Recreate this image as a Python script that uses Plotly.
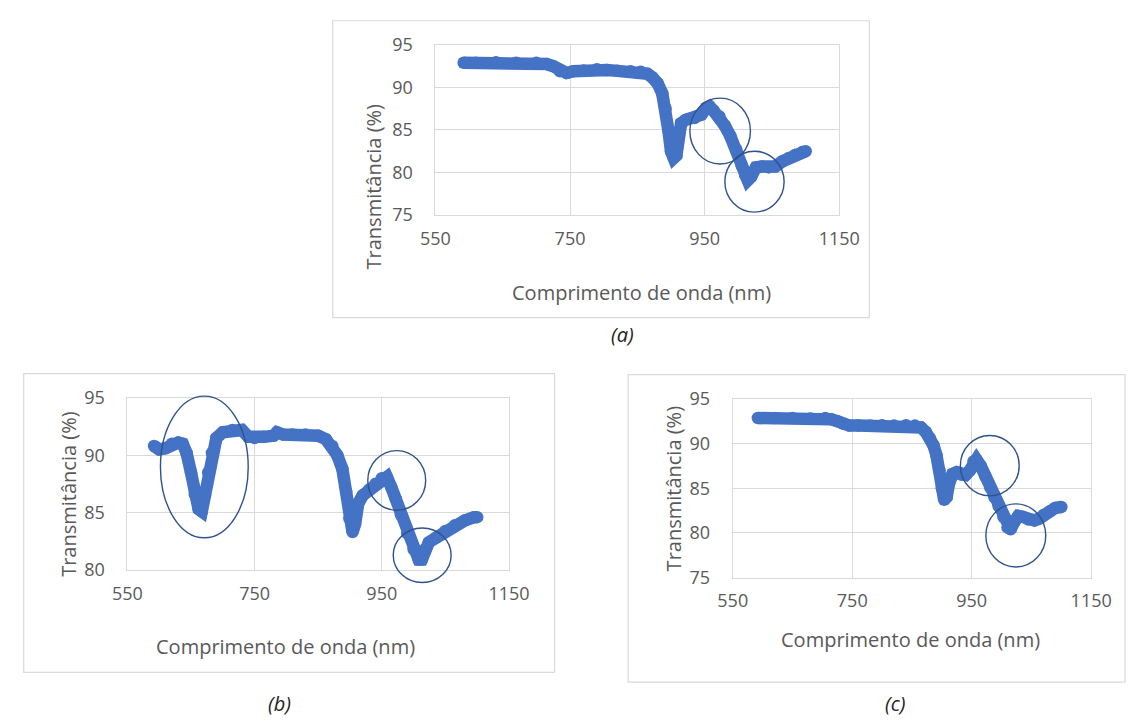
import plotly.graph_objects as go

W, H = 1148, 725

# Transmittance spectra (wavelength in nm, transmittance in %)
wl_a = [592, 610, 640, 670, 700, 715, 725, 735, 745, 755, 770, 790, 805, 820, 840, 855, 865,
        872, 880, 887, 892, 896, 900, 904, 908, 911, 915, 922, 935, 945, 952, 957, 963, 972,
        980, 988, 997, 1005, 1010, 1014, 1019, 1026, 1035, 1045, 1055, 1065, 1075, 1085, 1095, 1100]
tr_a = [92.9, 92.9, 92.95, 92.9, 92.9, 92.75, 92.5, 91.9, 91.7, 91.9, 92.0, 92.15, 92.05, 91.95,
        91.9, 91.85, 91.6, 91.2, 90.5, 89.3, 87.5, 85.0, 82.5, 81.7, 82.0, 84.5, 85.8, 86.2, 86.4,
        86.8, 87.6, 87.8, 87.3, 86.6, 85.5, 84.3, 82.7, 80.8, 79.7, 79.1, 79.5, 80.6, 80.7, 80.6,
        80.7, 81.3, 81.7, 82.1, 82.4, 82.5]

wl_b = [592, 600, 610, 620, 630, 637, 643, 650, 656, 662, 667, 672, 677, 683, 690, 700, 715,
        730, 740, 750, 765, 780, 785, 795, 810, 830, 850, 862, 872, 880, 888, 894, 899, 904, 908,
        913, 920, 930, 940, 950, 958, 965, 972, 980, 990, 1000, 1008, 1013, 1018, 1024, 1035,
        1050, 1065, 1080, 1095, 1100]
tr_b = [90.8, 90.5, 90.6, 91.0, 91.1, 91.0, 90.2, 88.5, 86.6, 85.3, 85.1, 86.5, 88.5, 90.2, 91.5,
        92.0, 92.2, 92.2, 91.6, 91.5, 91.6, 91.7, 92.0, 91.8, 91.8, 91.8, 91.7, 91.4, 90.8, 90.0,
        88.8, 86.8, 84.5, 83.3, 84.0, 85.8, 86.5, 87.0, 87.5, 88.0, 88.1, 87.2, 86.2, 84.8, 83.2,
        81.8, 80.9, 80.9, 81.8, 82.4, 82.8, 83.4, 83.9, 84.3, 84.6, 84.6]

wl_c = [592, 620, 650, 680, 705, 715, 725, 735, 745, 760, 780, 800, 820, 840, 855, 865, 873,
        880, 886, 891, 896, 900, 904, 908, 912, 918, 925, 933, 940, 947, 953, 958, 965, 973, 981,
        988, 995, 1003, 1010, 1015, 1021, 1028, 1035, 1045, 1055, 1063, 1070, 1080, 1090, 1100]
tr_c = [92.85, 92.85, 92.85, 92.8, 92.85, 92.7, 92.5, 92.2, 92.0, 92.0, 92.0, 92.05, 92.0, 92.05,
        92.0, 91.8, 91.3, 90.6, 89.8, 88.7, 87.0, 85.0, 83.7, 84.0, 85.5, 86.6, 86.8, 86.5, 86.5,
        87.0, 88.0, 88.2, 87.5, 86.3, 85.1, 84.0, 83.0, 81.8, 80.6, 80.4, 81.2, 81.9, 81.8, 81.5,
        81.4, 81.6, 82.0, 82.4, 82.8, 82.9]

x_ticks = [550, 750, 950, 1150]
x_range = [550, 1150]

x_title = "Comprimento de onda (nm)"
y_title = "Transmitância (%)"

# Highlight ellipses (x0, x1, y0, y1) in data units of each panel
marks_a = [(928, 1018, 81.0, 88.75), (980, 1068, 75.35, 82.5)]
marks_b = [(602, 740, 82.8, 95.15), (928, 1019, 85.2, 90.4), (968, 1059, 78.9, 83.65)]
marks_c = [(931, 1029.5, 84.15, 90.9), (973.7, 1074, 76.2, 83.25)]

# Panel geometry in pixels: plot area (left, top, right, bottom) and surrounding frame
panels = [
    dict(name="(a)", wl=wl_a, tr=tr_a, yr=[75, 95], yt=[75, 80, 85, 90, 95],
         plot=(434, 33, 851, 209), frame=(328, 8, 882, 315), marks=marks_a,
         ytitle=(370, 179), xtitle=(647, 289), label=(627, 333)),
    dict(name="(b)", wl=wl_b, tr=tr_b, yr=[80, 95], yt=[80, 85, 90, 95],
         plot=(116, 398, 510, 576), frame=(9, 373, 557, 682), marks=marks_b,
         ytitle=(55, 497), xtitle=(279, 655), label=(273, 714)),
    dict(name="(c)", wl=wl_c, tr=tr_c, yr=[75, 95], yt=[75, 80, 85, 90, 95],
         plot=(741, 399, 1111, 584), frame=(633, 374, 1146, 692), marks=marks_c,
         ytitle=(680, 492), xtitle=(925, 648), label=(909, 714)),
]


def fx(p):
    return p / W


def fy(p):
    return 1 - p / H


FONT = "Open Sans"
GREY_TXT = "#595959"
GRID = "#d9d9d9"
BLUE = "#4472c4"
RING = "#2f528f"

fig = go.Figure()
layout = dict(
    width=W, height=H, margin=dict(l=0, r=0, t=0, b=0),
    paper_bgcolor="white", plot_bgcolor="white", showlegend=False,
    font=dict(family=FONT, color=GREY_TXT),
)
shapes, annotations = [], []

for i, p in enumerate(panels):
    k = "" if i == 0 else str(i + 1)
    l, t, r, b = p["plot"]
    fig.add_trace(go.Scatter(
        x=p["wl"], y=p["tr"], mode="lines+markers",
        line=dict(color=BLUE, width=12.5),
        marker=dict(color=BLUE, size=12.5),
        xaxis="x" + k, yaxis="y" + k, hoverinfo="skip",
    ))
    layout["xaxis" + k] = dict(
        domain=[fx(l), fx(r)], anchor="y" + k, range=x_range,
        tickmode="array", tickvals=x_ticks, showgrid=True, gridcolor=GRID, gridwidth=1,
        showline=True, linecolor=GRID, mirror=True, zeroline=False,
        ticks="outside", ticklen=7, tickcolor="rgba(0,0,0,0)",
        tickfont=dict(size=18, color=GREY_TXT, family=FONT), fixedrange=True,
    )
    layout["yaxis" + k] = dict(
        domain=[fy(b), fy(t)], anchor="x" + k, range=p["yr"],
        tickmode="array", tickvals=p["yt"], showgrid=True, gridcolor=GRID, gridwidth=1,
        showline=True, linecolor=GRID, mirror=True, zeroline=False,
        ticks="outside", ticklen=18, tickcolor="rgba(0,0,0,0)",
        tickfont=dict(size=18, color=GREY_TXT, family=FONT), fixedrange=True,
    )

    # chart frame
    fl, ft, fr, fb = p["frame"]
    shapes.append(dict(type="rect", xref="paper", yref="paper",
                       x0=fx(fl), x1=fx(fr), y0=fy(fb), y1=fy(ft),
                       line=dict(color=GRID, width=1.2), layer="below"))

    # highlight ellipses, converted from data units to paper units
    def to_px(xv, yv, l=l, t=t, r=r, b=b, yr=p["yr"]):
        px = l + (xv - x_range[0]) / (x_range[1] - x_range[0]) * (r - l)
        py = b - (yv - yr[0]) / (yr[1] - yr[0]) * (b - t)
        return px, py

    for x0, x1, y0, y1 in p["marks"]:
        ax0, ay0 = to_px(x0, y0)
        ax1, ay1 = to_px(x1, y1)
        shapes.append(dict(type="circle", xref="paper", yref="paper",
                           x0=fx(ax0), x1=fx(ax1), y0=fy(ay0), y1=fy(ay1),
                           line=dict(color=RING, width=1.4), layer="above"))

    yx, yy = p["ytitle"]
    annotations.append(dict(text=y_title, x=fx(yx), y=fy(yy), xref="paper", yref="paper",
                            showarrow=False, textangle=-90, xanchor="center", yanchor="middle",
                            font=dict(size=20, color=GREY_TXT, family=FONT)))
    xx, xy = p["xtitle"]
    annotations.append(dict(text=x_title, x=fx(xx), y=fy(xy), xref="paper", yref="paper",
                            showarrow=False, xanchor="center", yanchor="middle",
                            font=dict(size=20, color=GREY_TXT, family=FONT)))
    lx, ly = p["label"]
    annotations.append(dict(text="<i>" + p["name"] + "</i>", x=fx(lx), y=fy(ly),
                            xref="paper", yref="paper", showarrow=False,
                            xanchor="center", yanchor="middle",
                            font=dict(size=20, color="#222222", family=FONT)))

layout["shapes"] = shapes
layout["annotations"] = annotations
fig.update_layout(**layout)

fig.write_html("out.html")
